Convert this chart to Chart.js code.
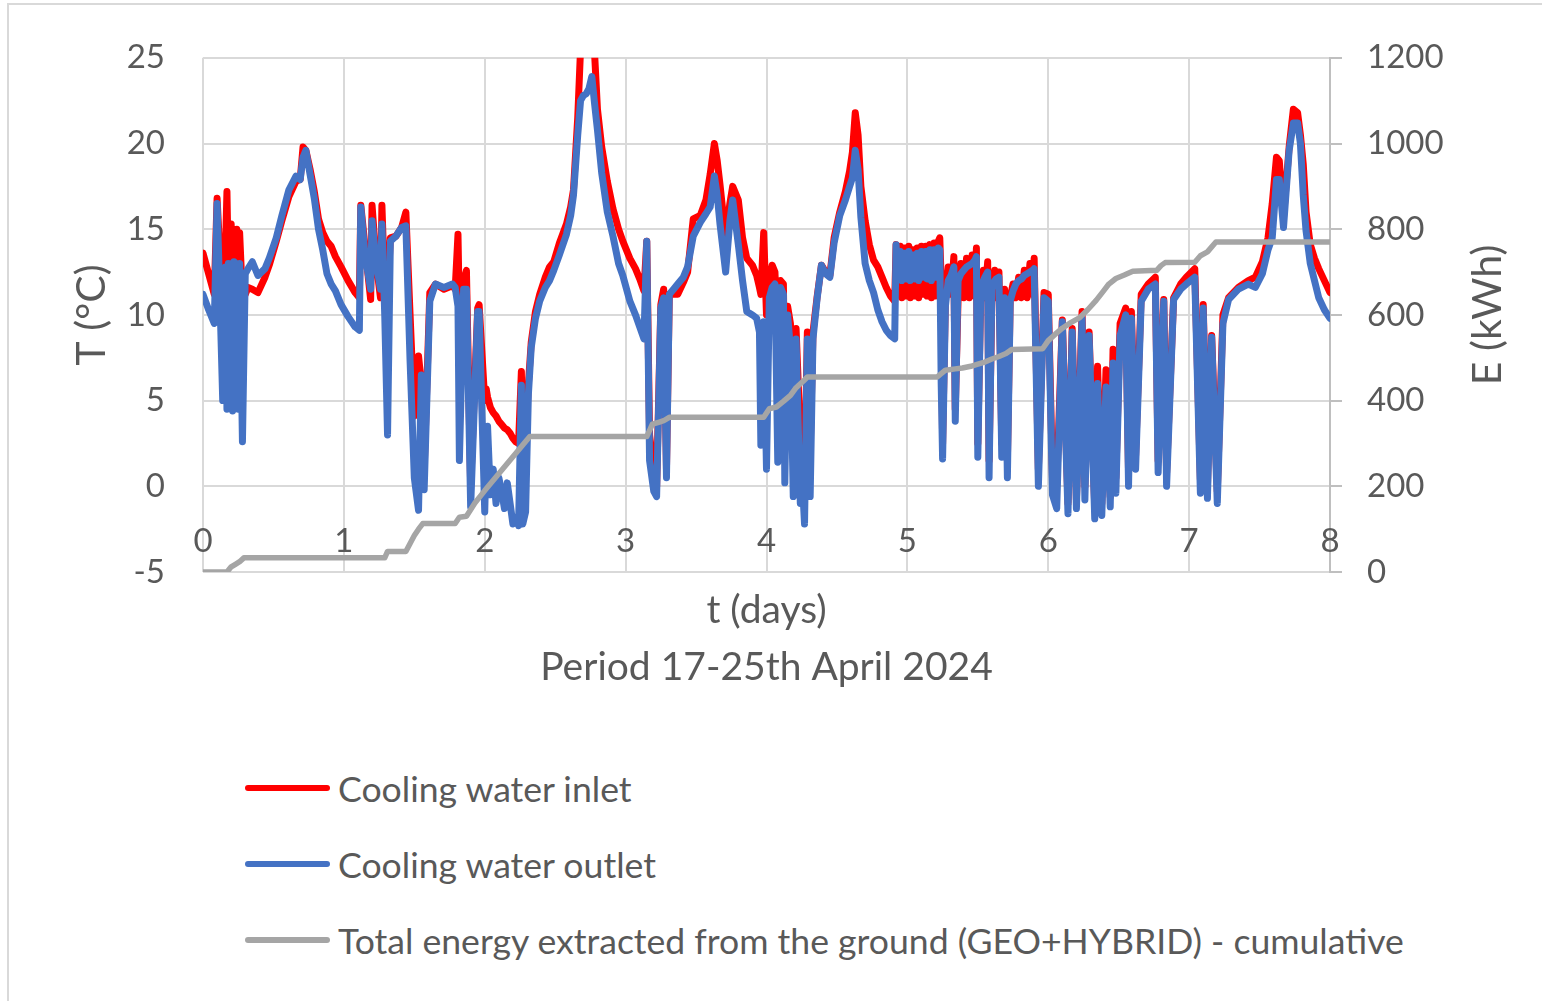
<!DOCTYPE html>
<html>
<head>
<meta charset="utf-8">
<script src="https://cdn.jsdelivr.net/npm/chart.js@4.4.1/dist/chart.umd.min.js"></script>
<style>
  html, body { margin: 0; padding: 0; background: #fff; overflow: hidden; }
  #page { position: relative; width: 1542px; height: 1001px; overflow: hidden; font-family: Lato, "Open Sans", sans-serif; color: #595959; }
  #frame { position: absolute; left: 7px; top: 3px; width: 1600px; height: 1100px; border-top: 2px solid #d9d9d9; border-left: 2px solid #d9d9d9; }
  #wrap { position: absolute; left: 0; top: 0; width: 1542px; height: 700px; }
  .leg { position: absolute; left: 245px; height: 44px; display: flex; align-items: center; font-size: 35.6px; white-space: nowrap; }
  .leg .sw { display: inline-block; width: 85px; height: 6px; border-radius: 3px; margin-right: 8px; }
</style>
</head>
<body>
<div id="page">
  <div id="frame"></div>
  <div id="wrap"><canvas id="tempChart" width="1542" height="700"></canvas></div>
  <div id="legend"></div>
</div>
<script>
// time in days, temperatures in °C (inlet / outlet share the same time points)
const times = [
  0.00, 0.04, 0.08, 0.10, 0.12, 0.14, 0.16, 0.17, 0.18, 0.19, 0.20, 0.21, 0.22, 0.23, 0.24, 0.25, 0.26, 0.28, 0.30, 0.32,
  0.35, 0.39, 0.44, 0.47, 0.52, 0.56, 0.61, 0.66, 0.69, 0.71, 0.73, 0.76, 0.79, 0.82, 0.85, 0.88, 0.91, 0.94, 0.98, 1.03,
  1.08, 1.11, 1.12, 1.15, 1.19, 1.20, 1.23, 1.26, 1.27, 1.29, 1.31, 1.33, 1.37, 1.41, 1.44, 1.47, 1.50, 1.53, 1.55, 1.57,
  1.61, 1.65, 1.71, 1.77, 1.79, 1.81, 1.82, 1.85, 1.87, 1.90, 1.95, 1.96, 2.00, 2.01, 2.02, 2.04, 2.06, 2.08, 2.10, 2.12,
  2.14, 2.16, 2.18, 2.20, 2.22, 2.24, 2.26, 2.27, 2.29, 2.31, 2.33, 2.36, 2.39, 2.43, 2.46, 2.49, 2.53, 2.58, 2.61, 2.63,
  2.66, 2.68, 2.70, 2.72, 2.74, 2.76, 2.78, 2.80, 2.83, 2.87, 2.91, 2.95, 2.98, 3.03, 3.07, 3.10, 3.13, 3.15, 3.17, 3.20,
  3.22, 3.25, 3.27, 3.29, 3.31, 3.34, 3.37, 3.41, 3.44, 3.48, 3.53, 3.57, 3.60, 3.63, 3.65, 3.67, 3.71, 3.74, 3.76, 3.80,
  3.83, 3.86, 3.90, 3.93, 3.95, 3.96, 3.98, 4.00, 4.02, 4.04, 4.06, 4.08, 4.10, 4.12, 4.13, 4.15, 4.17, 4.19, 4.21, 4.23,
  4.24, 4.25, 4.27, 4.29, 4.31, 4.33, 4.36, 4.39, 4.42, 4.45, 4.48, 4.52, 4.56, 4.59, 4.61, 4.63, 4.65, 4.67, 4.70, 4.73,
  4.76, 4.79, 4.82, 4.85, 4.88, 4.91, 4.92, 4.93, 4.95, 4.96, 4.98, 4.99, 5.01, 5.02, 5.04, 5.05, 5.07, 5.08, 5.10, 5.11,
  5.13, 5.14, 5.16, 5.17, 5.19, 5.20, 5.22, 5.23, 5.24, 5.25, 5.27, 5.29, 5.31, 5.33, 5.34, 5.36, 5.38, 5.40, 5.42, 5.44,
  5.46, 5.48, 5.49, 5.50, 5.52, 5.54, 5.55, 5.57, 5.58, 5.60, 5.62, 5.63, 5.65, 5.67, 5.69, 5.71, 5.73, 5.75, 5.77, 5.79,
  5.81, 5.83, 5.85, 5.87, 5.89, 5.90, 5.93, 5.97, 6.00, 6.03, 6.06, 6.10, 6.14, 6.17, 6.20, 6.24, 6.26, 6.29, 6.33, 6.35,
  6.38, 6.41, 6.44, 6.46, 6.48, 6.51, 6.55, 6.57, 6.59, 6.62, 6.66, 6.71, 6.76, 6.78, 6.82, 6.84, 6.89, 6.94, 6.98, 7.04,
  7.08, 7.10, 7.13, 7.16, 7.20, 7.24, 7.28, 7.35, 7.42, 7.47, 7.52, 7.56, 7.59, 7.62, 7.64, 7.67, 7.71, 7.74, 7.77, 7.79,
  7.81, 7.83, 7.86, 7.89, 7.92, 7.96, 8.00
];

const inletT = [
  13.6, 12.4, 11.2, 16.8, 13.5, 12.0, 14.0, 17.2, 12.5, 11.5, 15.3, 12.0, 14.9, 11.5, 15.0, 12.0, 14.8, 11.0, 11.2, 11.6,
  11.5, 11.3, 12.2, 12.9, 14.3, 15.5, 16.9, 17.8, 17.9, 19.8, 19.6, 18.5, 17.2, 15.6, 14.8, 14.3, 14.0, 13.4, 12.8, 12.0,
  11.3, 11.0, 16.4, 14.0, 10.9, 16.4, 13.0, 11.0, 16.4, 11.5, 11.0, 14.5, 14.6, 15.1, 16.0, 10.0, 4.1, 7.6, 6.0, 1.0,
  11.3, 11.8, 11.5, 11.7, 11.5, 14.7, 10.0, 12.0, 12.6, 0.0, 10.4, 10.6, 5.0, 5.7, 5.2, 4.6, 4.3, 4.1, 3.8, 3.6,
  3.4, 3.3, 3.1, 2.8, 2.6, 2.5, 6.7, 2.0, 2.5, 6.0, 8.4, 10.2, 11.2, 12.2, 12.8, 13.1, 14.2, 15.3, 16.3, 17.3,
  21.5, 25.5, 26.5, 26.0, 26.0, 26.5, 25.2, 22.0, 19.8, 17.8, 16.2, 15.0, 14.3, 13.3, 12.7, 12.1, 11.4, 14.3, 3.0, 1.0,
  0.0, 10.6, 11.5, 1.0, 11.2, 11.2, 11.2, 11.9, 12.5, 15.6, 15.8, 16.7, 18.2, 20.0, 19.0, 17.6, 14.5, 16.5, 17.5, 16.7,
  14.5, 13.3, 12.9, 12.3, 11.6, 11.2, 14.8, 10.0, 12.0, 12.9, 12.5, 8.0, 12.0, 11.8, 5.0, 10.5, 9.5, 3.0, 9.2, 5.0,
  3.0, 2.9, 0.0, 9.0, 2.0, 9.0, 11.1, 12.9, 12.5, 12.3, 14.5, 16.0, 17.2, 18.4, 19.5, 21.8, 20.5, 17.5, 15.5, 14.1,
  13.2, 12.8, 12.2, 11.6, 11.1, 10.8, 14.1, 11.2, 14.0, 11.0, 13.9, 11.1, 14.0, 11.0, 13.8, 11.1, 13.9, 11.0, 14.0, 11.2,
  14.0, 11.1, 14.1, 11.0, 14.2, 11.1, 14.3, 14.5, 12.0, 2.5, 11.0, 12.8, 11.2, 13.4, 4.5, 11.0, 13.0, 11.0, 13.3, 11.0,
  13.5, 11.1, 13.9, 2.5, 11.0, 12.6, 11.0, 13.1, 1.5, 11.0, 12.6, 11.0, 12.5, 2.5, 11.5, 1.5, 11.0, 11.8, 11.0, 12.2,
  11.0, 12.6, 11.0, 13.0, 11.2, 13.3, 1.0, 11.3, 11.2, 0.5, 0.0, 9.7, -1.0, 9.2, -0.8, 10.2, 0.0, 9.0, -1.2, 7.0,
  -1.0, 6.8, -0.6, 8.0, 0.5, 9.5, 10.4, 0.8, 10.2, 1.8, 11.2, 11.8, 12.2, 1.5, 10.9, 0.8, 11.0, 11.8, 12.2, 12.7,
  0.4, 10.6, 0.0, 8.8, -0.3, 10.0, 11.0, 11.6, 12.0, 12.2, 13.1, 14.5, 16.5, 19.2, 19.0, 15.7, 19.8, 22.0, 21.8, 20.5,
  18.8, 16.0, 14.1, 13.3, 12.7, 12.0, 11.3
];

const outletT = [
  11.2, 10.3, 9.5, 16.5, 11.0, 5.0, 12.8, 4.5, 13.0, 4.6, 13.0, 4.4, 13.1, 4.8, 13.0, 4.5, 13.0, 2.6, 12.4, 12.7,
  13.1, 12.3, 12.7, 13.3, 14.5, 15.8, 17.3, 18.1, 17.9, 19.2, 19.6, 18.2, 16.8, 15.0, 13.8, 12.4, 11.8, 11.4, 10.6, 9.9,
  9.3, 9.1, 16.3, 13.5, 11.5, 15.5, 13.0, 11.5, 15.3, 10.0, 3.0, 14.3, 14.6, 15.1, 15.2, 7.3, 0.5, -1.4, 6.5, -0.2,
  10.8, 11.8, 11.6, 11.8, 11.6, 10.5, 1.5, 11.5, 11.5, -1.2, 10.2, 10.2, -1.5, 2.0, 3.5, -0.5, 1.0, -1.0, 0.5, -0.3,
  -1.3, 0.2, -1.0, -2.2, -1.8, -2.3, 5.9, -2.2, -1.5, 5.4, 8.1, 9.8, 10.8, 11.6, 12.0, 12.6, 13.5, 14.7, 15.8, 17.0,
  20.5, 22.5, 22.8, 22.9, 23.2, 23.9, 22.3, 20.8, 18.3, 16.0, 14.6, 13.0, 12.3, 10.8, 10.0, 9.3, 8.6, 14.3, 1.5, -0.3,
  -0.6, 10.4, 11.0, 0.5, 11.2, 11.5, 11.8, 12.2, 12.8, 14.6, 15.4, 15.9, 16.3, 18.1, 17.0, 15.3, 12.5, 15.5, 16.7, 14.1,
  12.0, 10.2, 10.0, 9.8, 9.0, 2.4, 9.6, 1.0, 11.0, 11.6, 11.8, 1.4, 11.6, 11.2, 0.2, 10.0, 8.0, -0.6, 8.6, 2.0,
  -1.0, 1.0, -2.2, 8.6, -0.6, 8.6, 11.0, 12.9, 12.4, 12.2, 14.2, 15.8, 16.7, 17.5, 18.0, 19.6, 18.5, 15.7, 13.0, 12.0,
  11.3, 10.3, 9.6, 9.1, 8.8, 8.6, 14.1, 12.2, 13.7, 12.0, 13.6, 12.1, 13.7, 12.0, 13.5, 12.1, 13.6, 12.0, 13.7, 12.2,
  13.7, 12.1, 13.8, 12.0, 13.8, 12.2, 13.9, 13.8, 6.0, 1.6, 10.5, 12.0, 12.3, 12.8, 3.8, 12.0, 12.4, 12.6, 12.8, 12.9,
  13.0, 13.2, 13.4, 1.7, 10.8, 12.0, 12.2, 12.5, 0.5, 11.5, 12.0, 12.1, 12.2, 1.7, 11.0, 0.5, 10.8, 11.4, 11.8, 12.0,
  12.1, 12.3, 12.4, 12.5, 12.6, 12.7, 0.0, 11.0, 10.8, -0.5, -1.3, 9.6, -1.6, 9.0, -1.3, 9.8, -0.8, 8.8, -1.9, 6.0,
  -1.7, 5.8, -1.2, 7.2, -0.4, 8.8, 10.0, 0.0, 9.8, 1.0, 10.8, 11.5, 11.8, 0.8, 10.8, 0.0, 10.9, 11.5, 11.8, 12.2,
  -0.4, 10.4, -0.7, 8.7, -1.0, 9.5, 10.9, 11.5, 11.8, 11.6, 12.4, 13.8, 14.5, 17.9, 17.9, 15.1, 19.6, 21.2, 21.2, 20.0,
  17.0, 14.9, 13.0, 12.0, 11.0, 10.3, 9.8
];

// cumulative energy extracted from the ground, kWh
const energyTimes = [
  0.00, 0.17, 0.20, 0.23, 0.26, 0.29, 1.29, 1.31, 1.44, 1.50, 1.53, 1.56, 1.79, 1.82, 1.87, 1.93, 2.00, 2.32, 3.15, 3.19,
  3.24, 3.27, 3.31, 3.98, 4.02, 4.07, 4.12, 4.17, 4.21, 4.26, 4.29, 5.21, 5.27, 5.34, 5.39, 5.45, 5.50, 5.55, 5.60, 5.65,
  5.70, 5.74, 5.96, 6.00, 6.05, 6.10, 6.16, 6.22, 6.28, 6.34, 6.39, 6.43, 6.48, 6.54, 6.60, 6.77, 6.80, 6.83, 7.04, 7.08,
  7.13, 7.19, 8.00
];
const energyKWh = [
  0, 0, 12, 18, 24, 33, 33, 48, 48, 85, 100, 113, 113, 128, 130, 161, 190, 316, 316, 345,
  350, 353, 361, 361, 381, 385, 398, 412, 430, 445, 455, 455, 471, 474, 476, 480, 485, 490, 497, 503,
  510, 519, 521, 540, 555, 569, 582, 593, 612, 634, 655, 672, 685, 693, 702, 704, 715, 722, 723, 738,
  747, 770, 770
];

const seriesNames = [
  "Cooling water inlet",
  "Cooling water outlet",
  "Total energy extracted from the ground (GEO+HYBRID) - cumulative"
];
const seriesColors = ["#ff0000", "#4472c4", "#a5a5a5"];

const FONT = "Lato";
const TXT = "#595959";
Chart.defaults.font.family = FONT;
Chart.defaults.color = TXT;

// Excel puts the day labels just above the bottom of the plot, and the right title reads upwards
const axisText = {
  id: "axisText",
  beforeDatasetsDraw(chart) {
    const s = chart.scales.x;
    const c = chart.ctx;
    c.save();
    c.font = "33px " + FONT;
    c.fillStyle = TXT;
    c.textAlign = "center";
    c.textBaseline = "middle";
    s.ticks.forEach(t => c.fillText(String(t.value), s.getPixelForValue(t.value), chart.chartArea.bottom - 31));
    c.restore();
  },
  afterDraw(chart) {
    const s = chart.scales.y2;
    const c = chart.ctx;
    c.save();
    c.translate(s.right - 54, (s.top + s.bottom) / 2);
    c.rotate(-Math.PI / 2);
    c.font = "41px " + FONT;
    c.fillStyle = TXT;
    c.textAlign = "center";
    c.textBaseline = "middle";
    c.fillText("E (kWh)", 0, 0);
    c.restore();
  }
};

function loadChart() {
  const el = document.getElementById("tempChart");
  const inletData = times.map((t, i) => ({ x: t, y: inletT[i] }));
  const outletData = times.map((t, i) => ({ x: t, y: outletT[i] }));
  const energyData = energyTimes.map((t, i) => ({ x: t, y: energyKWh[i] }));

  new Chart(el.getContext("2d"), {
    type: "line",
    data: {
      datasets: [
        { label: seriesNames[0], data: inletData, borderColor: seriesColors[0], borderWidth: 7, yAxisID: "y", order: 3 },
        { label: seriesNames[1], data: outletData, borderColor: seriesColors[1], borderWidth: 7, yAxisID: "y", order: 2 },
        { label: seriesNames[2], data: energyData, borderColor: seriesColors[2], borderWidth: 5.5, yAxisID: "y2", order: 1 }
      ]
    },
    options: {
      responsive: false,
      animation: false,
      elements: {
        point: { radius: 0 },
        line: { tension: 0, borderJoinStyle: "round", borderCapStyle: "round" }
      },
      layout: { padding: { top: 55, left: 0, right: 0, bottom: 0 } },
      plugins: { legend: { display: false }, tooltip: { enabled: false } },
      scales: {
        x: {
          type: "linear", min: 0, max: 8,
          ticks: { stepSize: 1, display: false },
          grid: { color: "#d9d9d9", lineWidth: 2, drawTicks: false },
          border: { display: false },
          title: {
            display: true, text: ["t (days)", "Period 17-25th April 2024"], color: TXT,
            font: { size: 39, lineHeight: 1.46 }, padding: { top: 0, bottom: 4 }
          },
          afterFit: s => { s.height = 128; }
        },
        y: {
          position: "left", min: -5, max: 25,
          ticks: { stepSize: 5, padding: 38, color: TXT, font: { size: 33 } },
          grid: { color: "#d9d9d9", lineWidth: 2, drawTicks: false },
          border: { display: false },
          title: { display: true, text: "T (°C)", color: TXT, font: { size: 41 }, padding: { top: 67, bottom: 0 } },
          afterFit: s => { s.width = 203; }
        },
        y2: {
          position: "right", min: 0, max: 1200,
          ticks: { stepSize: 200, padding: 25, color: TXT, font: { size: 33 }, callback: v => String(v) },
          grid: { drawOnChartArea: false, color: "#bfbfbf", lineWidth: 2, tickLength: 12 },
          border: { color: "#bfbfbf", width: 2 },
          afterFit: s => { s.width = 212; }
        }
      }
    },
    plugins: [axisText]
  });

  const leg = document.getElementById("legend");
  const rowY = [788, 864, 940];
  seriesNames.forEach((name, i) => {
    const row = document.createElement("div");
    row.className = "leg";
    row.style.top = (rowY[i] - 22) + "px";
    row.innerHTML = '<span class="sw" style="background:' + seriesColors[i] + '"></span><span>' + name + "</span>";
    leg.appendChild(row);
  });
}

document.addEventListener("DOMContentLoaded", loadChart);
</script>
</body>
</html>
